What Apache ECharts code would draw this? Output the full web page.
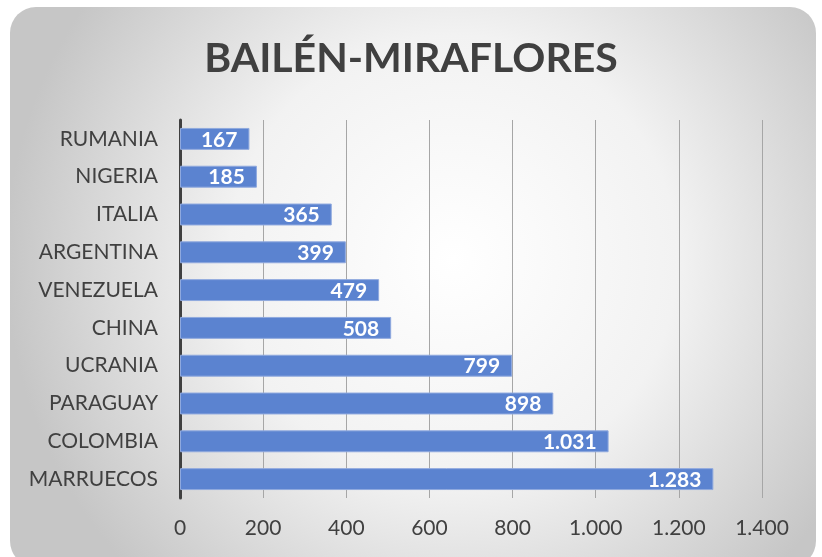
<!DOCTYPE html>
<html>
<head>
<meta charset="utf-8">
<script src="https://cdn.jsdelivr.net/npm/echarts@6/dist/echarts.min.js"></script>
<style>
  html, body { margin: 0; padding: 0; background: #ffffff; }
  #main { width: 822px; height: 557px; }
</style>
</head>
<body>
<div id="main"></div>
<script>
// datos del grafico
var paises = ['MARRUECOS', 'COLOMBIA', 'PARAGUAY', 'UCRANIA', 'CHINA', 'VENEZUELA', 'ARGENTINA', 'ITALIA', 'NIGERIA', 'RUMANIA'];
var valores = [1283, 1031, 898, 799, 508, 479, 399, 365, 185, 167];
var titulo = 'BAILÉN-MIRAFLORES';

// separador de miles con punto
function fmt(v) {
  return String(v).replace(/\B(?=(\d{3})+(?!\d))/g, '.');
}

var myChart = echarts.init(document.getElementById('main'));
var option = {
  backgroundColor: '#ffffff',
  graphic: [{
    type: 'rect',
    z: -10,
    shape: { x: 10, y: 7, width: 806, height: 560, r: 26 },
    style: {
      fill: {
        type: 'radial', x: 0.55, y: 0.45, r: 0.8,
        colorStops: [
          { offset: 0, color: '#ffffff' },
          { offset: 0.5, color: '#f2f2f2' },
          { offset: 1, color: '#c6c6c6' }
        ]
      }
    }
  }],
  title: {
    text: titulo,
    left: 'center',
    top: 33,
    textStyle: {
      fontFamily: 'Lato',
      fontWeight: 'bold',
      fontSize: 41,
      color: '#404040'
    }
  },
  grid: { left: 180, right: 60, top: 120, bottom: 59 },
  xAxis: {
    type: 'value',
    min: 0,
    max: 1400,
    interval: 200,
    axisLine: { show: false },
    axisTick: { show: false },
    axisLabel: {
      formatter: fmt,
      color: '#404040',
      fontSize: 21,
      fontFamily: 'Lato',
      margin: 20
    },
    splitLine: { lineStyle: { color: '#a6a6a6', width: 1 } }
  },
  yAxis: {
    type: 'category',
    data: paises,
    axisLine: { lineStyle: { color: '#404040', width: 3 } },
    axisTick: { show: false },
    axisLabel: {
      color: '#404040',
      fontSize: 21,
      fontFamily: 'Lato',
      margin: 22
    }
  },
  series: [{
    type: 'bar',
    data: valores,
    barWidth: '58%',
    itemStyle: { color: '#5b83d0', borderColor: '#8fa9de', borderWidth: 1 },
    label: {
      show: true,
      position: 'insideRight',
      distance: 12,
      formatter: function (p) { return fmt(p.value); },
      color: '#ffffff',
      fontWeight: 'bold',
      fontSize: 21,
      fontFamily: 'Lato',
      offset: [0, 1]
    }
  }]
};
myChart.setOption(option);
</script>
</body>
</html>
